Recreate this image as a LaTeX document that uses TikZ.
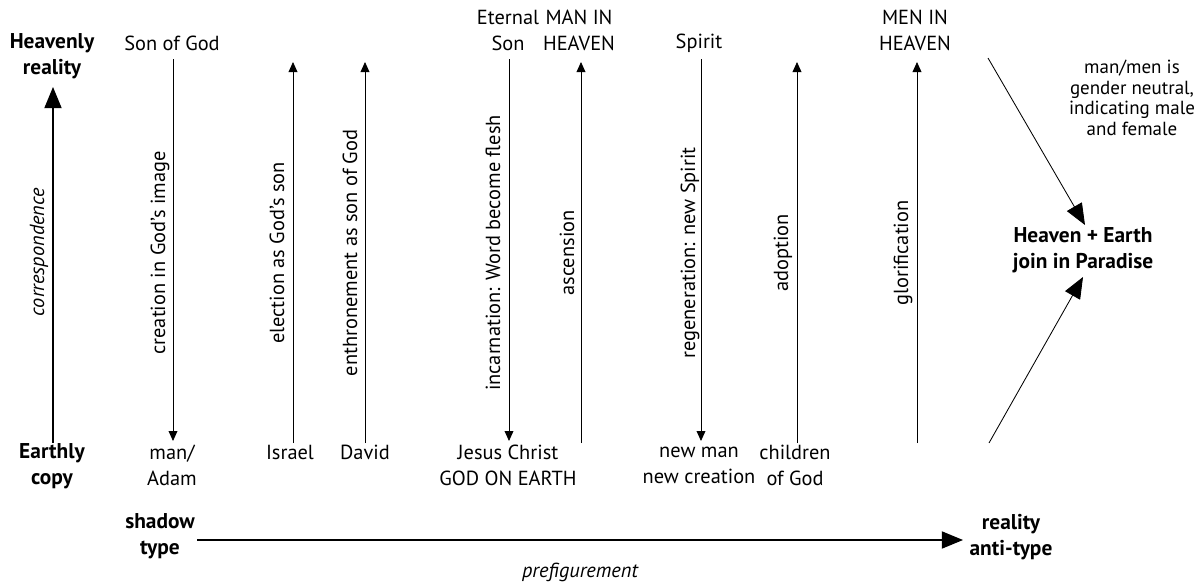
\documentclass[tikz,border=0pt]{standalone}
\usepackage{fontspec}
\setmainfont{PT Sans}
\usetikzlibrary{arrows.meta}

\begin{document}
\begin{tikzpicture}[x=0.025cm, y=-0.025cm,
		txt/.style={font=\fontsize{14.5}{18.5}\selectfont, align=center, inner sep=0pt},
		boldtxt/.style={font=\fontsize{15.2}{18.5}\selectfont\bfseries, align=center, inner sep=0pt},
		sidelabel/.style={txt, rotate=90},
		notetxt/.style={font=\fontsize{13.5}{14.6}\selectfont, align=center, inner sep=0pt},
		thinarrow/.style={line width=0.6pt, -{Triangle[length=0.25cm, width=0.22cm]}},
		bigarrow/.style={line width=0.9pt, -{Triangle[length=0.53cm, width=0.43cm]}}
		]
		\useasboundingbox (0,0) rectangle (1199,585);

		% row labels
		\node[boldtxt](Heav) at (52,56.5){Heavenly\\reality};
		\node[boldtxt](Earth) at (52,466){Earthly\\copy};
		\coordinate (Cbot) at (53,443);
		\coordinate (Ctop) at (53,87);
		\draw[bigarrow] (Cbot) -- (Ctop);
		\node[txt, rotate=90, font=\fontsize{14.5}{18.5}\selectfont\itshape](Corr) at (39,252){correspondence};

		% top texts
		\node[txt](SonGod) at (172,43){Son of God};
		\node[txt](EtSon) at (508,30.5){Eternal\\Son};
		\node[txt](ManHeav) at (579,30.5){MAN IN\\HEAVEN};
		\node[txt](Spirit) at (699,43){Spirit};
		\node[txt](MenHeav) at (915,30.5){MEN IN\\HEAVEN};

		% bottom texts
		\node[txt](Adam) at (172,465){man/\\Adam};
		\node[txt](Israel) at (290,452){Israel};
		\node[txt](David) at (365,452){David};
		\node[txt](Jesus) at (508,465){Jesus Christ\\GOD ON EARTH};
		\node[txt](NewMan) at (699,465){new man\\new creation};
		\node[txt](Children) at (795,465){children\\of God};

		% vertical arrows
		\coordinate (T1) at (173,59); \coordinate (B1) at (173,441);
		\coordinate (T2) at (293,62); \coordinate (B2) at (293,443);
		\coordinate (T3) at (365,62); \coordinate (B3) at (365,443);
		\coordinate (T4) at (509,59); \coordinate (B4) at (509,441);
		\coordinate (T5) at (581,62); \coordinate (B5) at (581,443);
		\coordinate (T6) at (701,59); \coordinate (B6) at (701,441);
		\coordinate (T7) at (797,62); \coordinate (B7) at (797,443);
		\coordinate (T8) at (917,62); \coordinate (B8) at (917,443);
		\draw[thinarrow] (T1) -- (B1);
		\draw[thinarrow] (B2) -- (T2);
		\draw[thinarrow] (B3) -- (T3);
		\draw[thinarrow] (T4) -- (B4);
		\draw[thinarrow] (B5) -- (T5);
		\draw[thinarrow] (T6) -- (B6);
		\draw[thinarrow] (B7) -- (T7);
		\draw[thinarrow] (B8) -- (T8);

		% arrow labels
		\node[sidelabel](L1) at (160,253){creation in God's image};
		\node[sidelabel](L2) at (277,253){election as God's son};
		\node[sidelabel](L3) at (350,253){enthronement as son of God};
		\node[sidelabel](L4) at (493,253){incarnation: Word become flesh};
		\node[sidelabel](L5) at (567,253){ascension};
		\node[sidelabel](L6) at (690,253){regeneration: new Spirit};
		\node[sidelabel](L7) at (783,253){adoption};
		\node[sidelabel](L8) at (903,253){glorification};

		% paradise
		\node[boldtxt](Para) at (1083,250){Heaven + Earth\\join in Paradise};
		\coordinate (DgTop) at (988,58);
		\coordinate (DgTopEnd) at (1085,225);
		\coordinate (DgBot) at (989,443);
		\coordinate (DgBotEnd) at (1083,277);
		\draw[bigarrow, line width=0.6pt] (DgTop) -- (DgTopEnd);
		\draw[bigarrow, line width=0.6pt] (DgBot) -- (DgBotEnd);
		\node[notetxt](Note) at (1132,98){man/men is\\gender neutral,\\indicating male\\and female};

		% prefigurement
		\node[boldtxt](Shadow) at (160,536){shadow\\type};
		\node[boldtxt](Real) at (1011,537){reality\\anti-type};
		\coordinate (Pstart) at (197,540);
		\coordinate (Pend) at (963,540);
		\draw[bigarrow] (Pstart) -- (Pend);
		\node[txt, font=\fontsize{14.5}{18.5}\selectfont\itshape](Pref) at (580,572){prefigurement};
	\end{tikzpicture}
\end{document}
